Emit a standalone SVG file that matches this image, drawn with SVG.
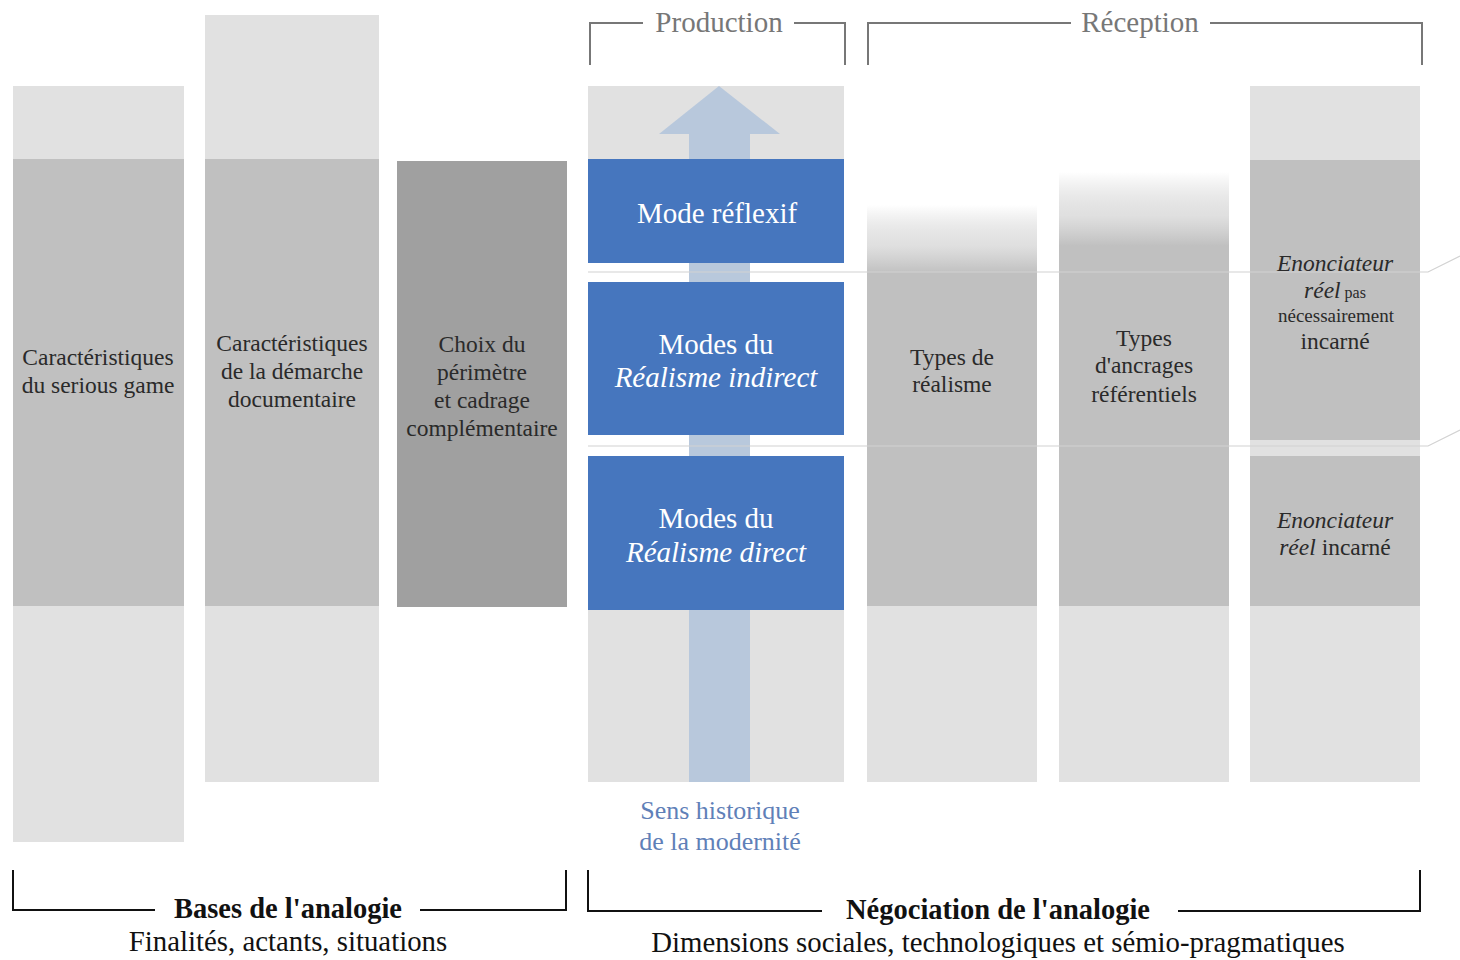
<svg xmlns="http://www.w3.org/2000/svg" width="1460" height="960" viewBox="0 0 1460 960">
<defs>
<style>
.lt{fill:#e1e1e1}
.md{fill:#c0c0c0}
.dk{fill:#a0a0a0}
.bl{fill:#4676be}
.t{font-family:"Liberation Serif","Times New Roman",serif;font-size:23.5px;fill:#2a2a2a;text-anchor:middle}
.sm{font-size:19px}
.w{font-family:"Liberation Serif","Times New Roman",serif;font-size:29px;fill:#fff;text-anchor:middle}
.hd{font-family:"Liberation Serif","Times New Roman",serif;font-size:29px;fill:#777;text-anchor:middle}
.bb{font-family:"Liberation Serif","Times New Roman",serif;font-size:28.5px;font-weight:bold;fill:#111;text-anchor:middle}
.sb{font-family:"Liberation Serif","Times New Roman",serif;font-size:28.8px;fill:#111;text-anchor:middle}
.sh{font-family:"Liberation Serif","Times New Roman",serif;font-size:26px;fill:#5f80b8;text-anchor:middle}
.gb{fill:none;stroke:#777;stroke-width:2}
.kb{fill:none;stroke:#111;stroke-width:2}
.thin{fill:none;stroke:#d2d2d2;stroke-width:1.2}
</style>
<linearGradient id="g5" x1="0" y1="0" x2="0" y2="1">
<stop offset="0" stop-color="#c0c0c0" stop-opacity="0"/>
<stop offset="0.1" stop-color="#d8d8d8" stop-opacity="0.8"/>
<stop offset="0.17" stop-color="#c0c0c0"/>
<stop offset="1" stop-color="#c0c0c0"/>
</linearGradient>
</defs>
<rect width="1460" height="960" fill="#fff"/>

<g id="col-serious-game">
<rect class="lt" x="13" y="86" width="171" height="756"/>
<rect class="md" x="13" y="159" width="171" height="447"/>
<text class="t" x="98" y="365">Caractéristiques</text>
<text class="t" x="98" y="393">du serious game</text>
</g>

<g id="col-demarche">
<rect class="lt" x="205" y="15" width="174" height="767"/>
<rect class="md" x="205" y="159" width="174" height="447"/>
<text class="t" x="292" y="351">Caractéristiques</text>
<text class="t" x="292" y="379">de la démarche</text>
<text class="t" x="292" y="407">documentaire</text>
</g>

<g id="col-choix">
<rect class="dk" x="397" y="161" width="170" height="446"/>
<text class="t" x="482" y="352">Choix du</text>
<text class="t" x="482" y="380">périmètre</text>
<text class="t" x="482" y="408">et cadrage</text>
<text class="t" x="482" y="436">complémentaire</text>
</g>

<g id="col-production">
<rect class="lt" x="588" y="86" width="256" height="73"/>
<rect class="lt" x="588" y="610" width="256" height="172"/>
<g id="arrow-modernite">
<rect x="689" y="130" width="61" height="652" fill="#b8c8dc"/>
<polygon points="719,86 780,134 659,134" fill="#b8c8dc"/>
</g>
<g id="mode-reflexif">
<rect class="bl" x="588" y="159" width="256" height="104"/>
<text class="w" x="717" y="223">Mode réflexif</text>
</g>
<g id="modes-indirect">
<rect class="bl" x="588" y="282" width="256" height="153"/>
<text class="w" x="716" y="354">Modes du</text>
<text class="w" x="716" y="387" font-style="italic">Réalisme indirect</text>
</g>
<g id="modes-direct">
<rect class="bl" x="588" y="456" width="256" height="154"/>
<text class="w" x="716" y="528">Modes du</text>
<text class="w" x="716" y="562" font-style="italic">Réalisme direct</text>
</g>
<text class="sh" x="720" y="819">Sens historique</text>
<text class="sh" x="720" y="850">de la modernité</text>
</g>

<g id="col-types-realisme">
<rect class="lt" x="867" y="606" width="170" height="176"/>
<rect fill="url(#g5)" x="867" y="205" width="170" height="401"/>
<text class="t" x="952" y="365">Types de</text>
<text class="t" x="952" y="392">réalisme</text>
</g>

<g id="col-ancrages">
<rect class="lt" x="1059" y="606" width="170" height="176"/>
<rect fill="url(#g5)" x="1059" y="172" width="170" height="434"/>
<text class="t" x="1144" y="346">Types</text>
<text class="t" x="1144" y="373">d'ancrages</text>
<text class="t" x="1144" y="402">référentiels</text>
</g>

<g id="col-enonciateur">
<rect class="lt" x="1250" y="86" width="170" height="696"/>
<rect class="md" x="1250" y="160" width="170" height="280"/>
<rect class="md" x="1250" y="456" width="170" height="150"/>
<text class="t" x="1335" y="271" font-style="italic">Enonciateur</text>
<text class="t" x="1335" y="298"><tspan font-style="italic">réel</tspan><tspan font-size="16"> pas</tspan></text>
<text class="t sm" x="1336" y="322">nécessairement</text>
<text class="t" x="1335" y="349">incarné</text>
<text class="t" x="1335" y="528" font-style="italic">Enonciateur</text>
<text class="t" x="1335" y="555"><tspan font-style="italic">réel</tspan> incarné</text>
</g>

<g id="connectors">
<polyline class="thin" points="588,272 1428,272 1460,256"/>
<polyline class="thin" points="588,446 1428,446 1460,430"/>
<g id="bracket-production">
<polyline class="gb" points="590,65 590,23 643,23"/>
<polyline class="gb" points="794,23 845,23 845,65"/>
<text class="hd" x="719" y="32">Production</text>
</g>
<g id="bracket-reception">
<polyline class="gb" points="868,65 868,23 1071,23"/>
<polyline class="gb" points="1210,23 1422,23 1422,65"/>
<text class="hd" x="1140" y="32">Réception</text>
</g>
<g id="bracket-bases">
<polyline class="kb" points="13,870 13,910 155,910"/>
<polyline class="kb" points="420,910 566,910 566,870"/>
<text class="bb" x="288" y="918">Bases de l'analogie</text>
<text class="sb" x="288" y="951">Finalités, actants, situations</text>
</g>
<g id="bracket-negociation">
<polyline class="kb" points="588,870 588,911 822,911"/>
<polyline class="kb" points="1178,911 1420,911 1420,870"/>
<text class="bb" x="998" y="919">Négociation de l'analogie</text>
<text class="sb" x="998" y="952">Dimensions sociales, technologiques et sémio-pragmatiques</text>
</g>
</g>
</svg>
